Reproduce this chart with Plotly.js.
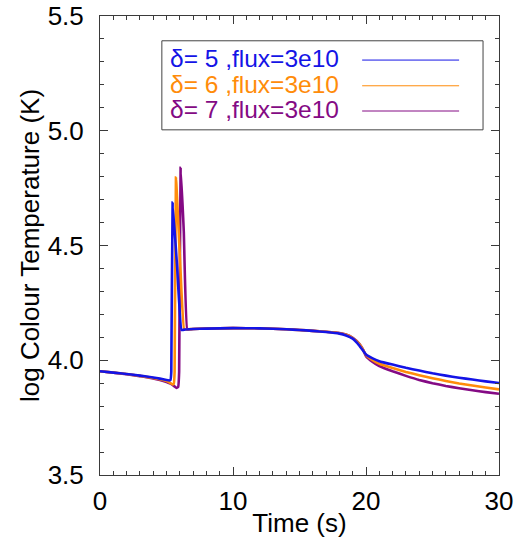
<!DOCTYPE html>
<html>
<head>
<meta charset="utf-8">
<script src="https://cdn.plot.ly/plotly-3.0.1.min.js"></script>
<style>html,body{margin:0;padding:0;background:#fff;}#chart{width:514px;height:538px;}</style>
</head>
<body>
<div id="chart"></div>
<script>
// Series labels
const seriesNames = ["δ= 5 ,flux=3e10", "δ= 6 ,flux=3e10", "δ= 7 ,flux=3e10"];
const seriesColors = ["#1414e6", "#ff8c0a", "#840a84"];

// δ = 5
const t5 = [0,1,2,3,4,4.5,5.0,5.2,5.3,5.36,5.46,5.8,6.13,6.4,7,8,10,12,14,15,16,17,18,18.5,19,19.5,19.8,20,20.5,21,22,23,24,25,26,27,28,29,30];
const v5 = [3.952,3.946,3.940,3.933,3.925,3.920,3.914,3.912,3.914,3.95,4.687,4.405,4.132,4.134,4.136,4.138,4.140,4.139,4.135,4.132,4.128,4.123,4.116,4.108,4.094,4.064,4.040,4.025,4.008,3.996,3.981,3.967,3.955,3.943,3.933,3.924,3.916,3.908,3.901];

// δ = 6
const t6 = [0,1,2,3,4,4.5,5.0,5.3,5.45,5.55,5.61,5.71,6.0,6.33,6.6,7,8,10,12,14,15,16,17,18,18.5,19,19.5,19.8,20,20.5,21,22,23,24,25,26,27,28,29,30];
const v6 = [3.952,3.946,3.940,3.932,3.923,3.917,3.909,3.900,3.895,3.898,3.95,4.796,4.46,4.134,4.135,4.136,4.138,4.140,4.139,4.135,4.132,4.128,4.124,4.118,4.111,4.097,4.070,4.043,4.022,4.000,3.985,3.966,3.949,3.935,3.922,3.910,3.899,3.890,3.881,3.873];

// δ = 7
const t7 = [0,1,2,3,4,4.5,5.0,5.3,5.6,5.75,5.88,5.95,6.06,6.3,6.56,6.8,7,8,10,12,14,15,16,17,18,18.5,19,19.5,19.8,20,20.5,21,22,23,24,25,26,27,28,29,30];
const v7 = [3.952,3.946,3.939,3.931,3.921,3.914,3.905,3.898,3.886,3.879,3.884,3.95,4.839,4.56,4.134,4.135,4.136,4.138,4.140,4.139,4.135,4.132,4.128,4.124,4.119,4.112,4.098,4.072,4.044,4.018,3.993,3.975,3.952,3.932,3.914,3.900,3.888,3.878,3.869,3.861,3.854];

const xs = [t5, t6, t7];
const ys = [v5, v6, v7];

const font = "Liberation Sans, Arial, Helvetica, sans-serif";
const axisColor = "#3a3a3a";

const traces = xs.map((x, i) => ({
  x: x, y: ys[i], type: "scatter", mode: "lines",
  name: seriesNames[i],
  line: {color: seriesColors[i], width: 2.6, shape: "spline", smoothing: 0.3},
  showlegend: false
}));
// draw purple first then orange then blue on top
traces.reverse();

// legend built from shapes/annotations in paper coords
const legY = [0.907, 0.851, 0.796];
const shapes = [{
  type: "rect", xref: "paper", yref: "paper",
  x0: 0.155, x1: 0.960, y0: 0.752, y1: 0.946,
  line: {color: "#444", width: 1}, fillcolor: "rgba(255,255,255,0)"
}];
const annotations = [];
seriesNames.forEach((n, i) => {
  annotations.push({
    xref: "paper", yref: "paper", x: 0.170, y: legY[i],
    xanchor: "left", yanchor: "middle", showarrow: false,
    text: n, font: {family: font, size: 24.5, color: seriesColors[i]}
  });
  shapes.push({
    type: "line", xref: "paper", yref: "paper",
    x0: 0.657, x1: 0.900, y0: legY[i] - 0.003, y1: legY[i] - 0.003,
    line: {color: seriesColors[i], width: 1}
  });
});

const axisCommon = {
  showline: true, linecolor: axisColor, linewidth: 1, mirror: "ticks",
  ticks: "inside", ticklen: 8, tickwidth: 1, tickcolor: axisColor,
  showgrid: false, zeroline: false, ticklabeloverflow: "allow",
  tickfont: {family: font, size: 26, color: "#000"}
};

const layout = {
  width: 514, height: 538,
  margin: {l: 100, r: 15, t: 16, b: 63},
  paper_bgcolor: "#fff", plot_bgcolor: "#fff",
  xaxis: Object.assign({}, axisCommon, {
    range: [0, 30], tick0: 0, dtick: 10, ticklabelstandoff: 3,
    minor: {dtick: 1, ticks: "inside", ticklen: 4, tickcolor: axisColor, showgrid: false},
    title: {text: "Time (s)", font: {family: font, size: 26, color: "#000"}, standoff: 0}
  }),
  yaxis: Object.assign({}, axisCommon, {
    range: [3.5, 5.5], tick0: 3.5, dtick: 0.5, tickformat: ".1f", ticklabelstandoff: 10,
    minor: {dtick: 0.1, ticks: "inside", ticklen: 4, tickcolor: axisColor, showgrid: false},
    title: {text: "log Colour Temperature (K)", font: {family: font, size: 26, color: "#000"}, standoff: 0}
  }),
  shapes: shapes,
  annotations: annotations
};

Plotly.newPlot("chart", traces, layout, {displayModeBar: false, staticPlot: true});
</script>
</body>
</html>
